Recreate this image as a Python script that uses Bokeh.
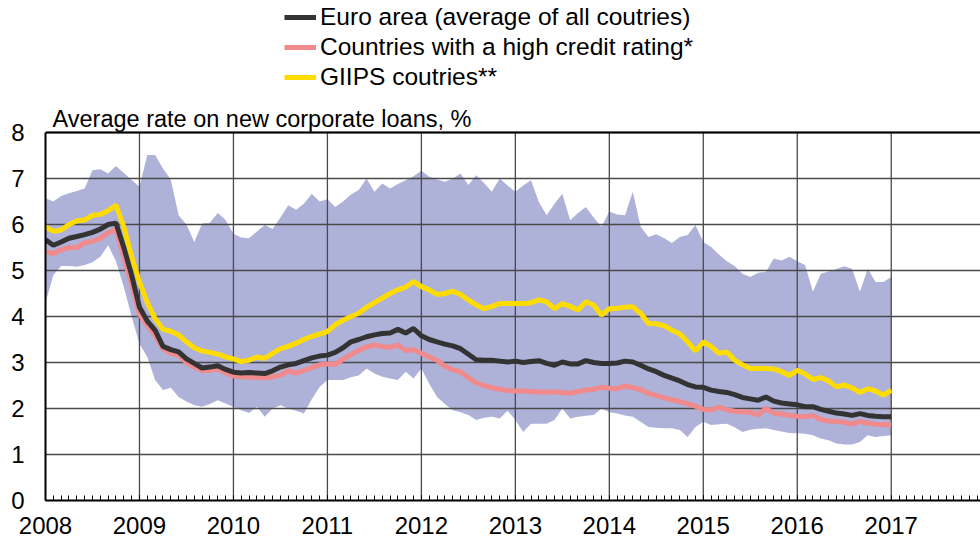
from bokeh.plotting import figure
from bokeh.embed import file_html
from bokeh.resources import INLINE
from bokeh.models import FixedTicker, Legend, LegendItem, Label, Span

# Monthly data, Jan 2008 .. Jan 2017
start_year = 2008
year_ticks = [2008, 2009, 2010, 2011, 2012, 2013, 2014, 2015, 2016, 2017, 2018]
y_ticks = [0, 1, 2, 3, 4, 5, 6, 7, 8]

euro = [5.67, 5.55, 5.62, 5.70, 5.74, 5.78, 5.83, 5.90, 6.00, 6.03, 5.50, 4.90,
        4.20, 3.90, 3.70, 3.35, 3.28, 3.23, 3.08, 2.98, 2.88, 2.90, 2.93, 2.85,
        2.79, 2.77, 2.78, 2.77, 2.76, 2.82, 2.90, 2.95, 2.98, 3.04, 3.10, 3.14,
        3.16, 3.22, 3.32, 3.45, 3.50, 3.56, 3.60, 3.63, 3.64, 3.72, 3.64, 3.74,
        3.58, 3.50, 3.45, 3.40, 3.36, 3.30, 3.18, 3.06, 3.05, 3.05, 3.03, 3.01,
        3.03, 3.00, 3.02, 3.04, 2.98, 2.94, 3.01, 2.97, 2.97, 3.04, 3.00, 2.98,
        2.98, 2.99, 3.03, 3.01, 2.94, 2.86, 2.80, 2.72, 2.66, 2.60, 2.52, 2.47,
        2.46, 2.40, 2.37, 2.35, 2.30, 2.24, 2.21, 2.18, 2.25, 2.16, 2.12, 2.10,
        2.08, 2.04, 2.04, 1.98, 1.94, 1.90, 1.88, 1.85, 1.89, 1.85, 1.83, 1.82,
        1.82]

high_rating = [5.41, 5.37, 5.45, 5.50, 5.50, 5.60, 5.64, 5.70, 5.82, 5.89, 5.30, 4.70,
               4.05, 3.80, 3.58, 3.30, 3.20, 3.16, 3.00, 2.90, 2.82, 2.83, 2.86, 2.78,
               2.71, 2.69, 2.68, 2.68, 2.67, 2.69, 2.72, 2.82, 2.77, 2.83, 2.89, 2.95,
               2.97, 2.96, 3.07, 3.17, 3.27, 3.34, 3.38, 3.35, 3.33, 3.38, 3.26, 3.28,
               3.20, 3.12, 3.05, 2.92, 2.84, 2.80, 2.67, 2.56, 2.50, 2.45, 2.42, 2.39,
               2.38, 2.38, 2.37, 2.36, 2.36, 2.36, 2.35, 2.33, 2.37, 2.40, 2.42, 2.46,
               2.44, 2.43, 2.49, 2.45, 2.41, 2.33, 2.28, 2.23, 2.19, 2.15, 2.10, 2.05,
               1.98, 1.97, 2.03, 1.97, 1.94, 1.93, 1.92, 1.86, 2.00, 1.90, 1.88, 1.85,
               1.83, 1.82, 1.85, 1.76, 1.73, 1.72, 1.70, 1.66, 1.72, 1.68, 1.66, 1.65,
               1.64]

giips = [5.95, 5.85, 5.88, 6.00, 6.08, 6.10, 6.20, 6.22, 6.30, 6.42, 5.95, 5.30,
         4.75, 4.30, 3.95, 3.72, 3.68, 3.60, 3.45, 3.32, 3.25, 3.22, 3.18, 3.12,
         3.08, 3.02, 3.05, 3.12, 3.09, 3.20, 3.30, 3.35, 3.42, 3.50, 3.57, 3.62,
         3.67, 3.82, 3.92, 4.00, 4.07, 4.20, 4.30, 4.40, 4.50, 4.58, 4.64, 4.76,
         4.65, 4.58, 4.48, 4.50, 4.55, 4.48, 4.36, 4.25, 4.17, 4.22, 4.28, 4.28,
         4.28, 4.28, 4.30, 4.36, 4.32, 4.17, 4.28, 4.22, 4.14, 4.32, 4.25, 4.03,
         4.17, 4.18, 4.20, 4.21, 4.07, 3.85, 3.84, 3.80, 3.70, 3.62, 3.45, 3.25,
         3.45, 3.35, 3.20, 3.23, 3.05, 2.95, 2.87, 2.87, 2.87, 2.86, 2.80, 2.72,
         2.83, 2.75, 2.63, 2.67, 2.60, 2.47, 2.51, 2.45, 2.35, 2.43, 2.38, 2.29,
         2.40]

range_max = [6.57, 6.50, 6.62, 6.68, 6.73, 6.78, 7.18, 7.20, 7.11, 7.27, 7.12, 6.97,
             6.82, 7.51, 7.51, 7.22, 6.98, 6.20, 6.00, 5.62, 6.02, 6.04, 6.25, 6.10,
             5.80, 5.72, 5.70, 5.85, 5.99, 5.90, 6.15, 6.42, 6.32, 6.45, 6.67, 6.50,
             6.55, 6.38, 6.50, 6.65, 6.75, 7.00, 6.71, 6.89, 6.78, 6.88, 6.96, 7.05,
             7.17, 7.04, 6.98, 6.93, 7.00, 7.11, 6.86, 7.07, 6.90, 6.71, 7.00, 6.85,
             6.71, 6.85, 6.96, 6.49, 6.20, 6.45, 6.67, 6.09, 6.25, 6.38, 6.15, 5.95,
             6.28, 6.22, 6.20, 6.71, 5.95, 5.73, 5.79, 5.70, 5.60, 5.73, 5.77, 5.99,
             5.62, 5.51, 5.35, 5.20, 5.10, 4.93, 4.86, 4.95, 4.97, 5.26, 5.22, 5.30,
             5.20, 5.12, 4.54, 4.93, 4.98, 5.03, 5.09, 5.04, 4.54, 5.04, 4.75, 4.75,
             4.86]

range_min = [4.30, 4.90, 5.10, 5.10, 5.08, 5.12, 5.18, 5.30, 5.55, 5.20, 4.64, 4.00,
             3.40, 3.12, 2.62, 2.40, 2.45, 2.25, 2.15, 2.07, 2.04, 2.10, 2.18, 2.11,
             2.03, 1.96, 1.90, 2.04, 1.82, 2.00, 2.07, 2.00, 1.95, 1.89, 2.20, 2.47,
             2.62, 2.62, 2.62, 2.68, 2.72, 2.87, 2.76, 2.69, 2.65, 2.62, 2.80, 2.65,
             2.87, 2.54, 2.25, 2.10, 1.96, 1.92, 1.86, 1.75, 1.80, 1.82, 1.78, 1.95,
             1.75, 1.49, 1.67, 1.67, 1.67, 1.75, 2.00, 1.78, 1.82, 1.84, 1.86, 2.00,
             1.92, 1.89, 1.85, 1.82, 1.71, 1.60, 1.58, 1.57, 1.57, 1.53, 1.38, 1.60,
             1.71, 1.64, 1.66, 1.67, 1.59, 1.49, 1.54, 1.56, 1.57, 1.53, 1.50, 1.47,
             1.46, 1.45, 1.42, 1.35, 1.31, 1.24, 1.22, 1.22, 1.27, 1.42, 1.38, 1.40,
             1.42]

labels = ["Euro area (average of all coutries)",
          "Countries with a high credit rating*",
          "GIIPS coutries**"]
heading = "Average rate on new corporate loans, %"

months = [start_year + i / 12 for i in range(len(euro))]
minor_months = [start_year + i / 12 for i in range(0, 12 * 10 + 1)]

FONT = "Liberation Sans"
Y_TOP = 8
Y_VIEW_MAX = 500 / 46.0   # room above the 0-8 scale for heading and legend

p = figure(width=980, height=542, x_range=(2008, 2017.95), y_range=(0, Y_VIEW_MAX),
           output_backend="svg", toolbar_location=None,
           min_border_left=45, min_border_right=0, min_border_top=0, min_border_bottom=42)
p.outline_line_color = None
p.background_fill_color = "white"

band = p.varea(x=months, y1=range_min, y2=range_max, fill_color="#aeb2d8", fill_alpha=1.0)
band.level = "image"

# vertical year grid lines limited to the 0-8 scale
grid_x = year_ticks[1:]
vgrid = p.segment(x0=grid_x, y0=[0] * len(grid_x), x1=grid_x, y1=[Y_TOP] * len(grid_x),
                  line_color="#4a4a4a", line_width=1.3)
vgrid.level = "underlay"

r_giips = p.line(months, giips, line_color="#ffdc00", line_width=5)
r_high = p.line(months, high_rating, line_color="#f08a8c", line_width=5)
r_euro = p.line(months, euro, line_color="#333333", line_width=5)

# axes
p.xaxis.ticker = FixedTicker(ticks=year_ticks, minor_ticks=minor_months)
p.yaxis.ticker = FixedTicker(ticks=y_ticks)
p.yaxis.bounds = (0, Y_TOP)
for ax in (p.xaxis[0], p.yaxis[0]):
    ax.axis_line_color = "black"
    ax.axis_line_width = 2
    ax.major_label_text_font = FONT
    ax.major_label_text_font_size = "24px"
    ax.major_label_text_color = "black"
    ax.major_tick_out = 0
p.xaxis.major_tick_in = 5
p.xaxis.major_tick_line_color = "black"
p.xaxis.minor_tick_in = 5
p.xaxis.minor_tick_out = 0
p.xaxis.minor_tick_line_color = "black"
p.xaxis.major_label_standoff = 16
p.yaxis.major_tick_in = 0
p.yaxis.minor_tick_line_color = None
p.yaxis.major_label_standoff = 21

p.xgrid.visible = False
p.ygrid.grid_line_color = "#4a4a4a"
p.ygrid.grid_line_width = 1.3

p.add_layout(Span(location=Y_TOP, dimension="width", line_color="black", line_width=2))

p.add_layout(Label(x=7, y=382, x_units="screen", y_units="screen", text=heading,
                   text_font=FONT, text_font_size="23.5px", text_color="black",
                   text_baseline="middle", text_align="left"))

legend = Legend(items=[LegendItem(label=labels[0], renderers=[r_euro]),
                       LegendItem(label=labels[1], renderers=[r_high]),
                       LegendItem(label=labels[2], renderers=[r_giips])],
                location=(239, 408), orientation="vertical",
                label_text_font=FONT, label_text_font_size="24.5px",
                label_text_color="black",
                glyph_width=32, glyph_height=30, label_height=30, spacing=0,
                padding=0, margin=0, border_line_color=None,
                background_fill_alpha=0, label_standoff=4)
p.add_layout(legend)

open("out.html", "w").write(file_html(p, INLINE))
